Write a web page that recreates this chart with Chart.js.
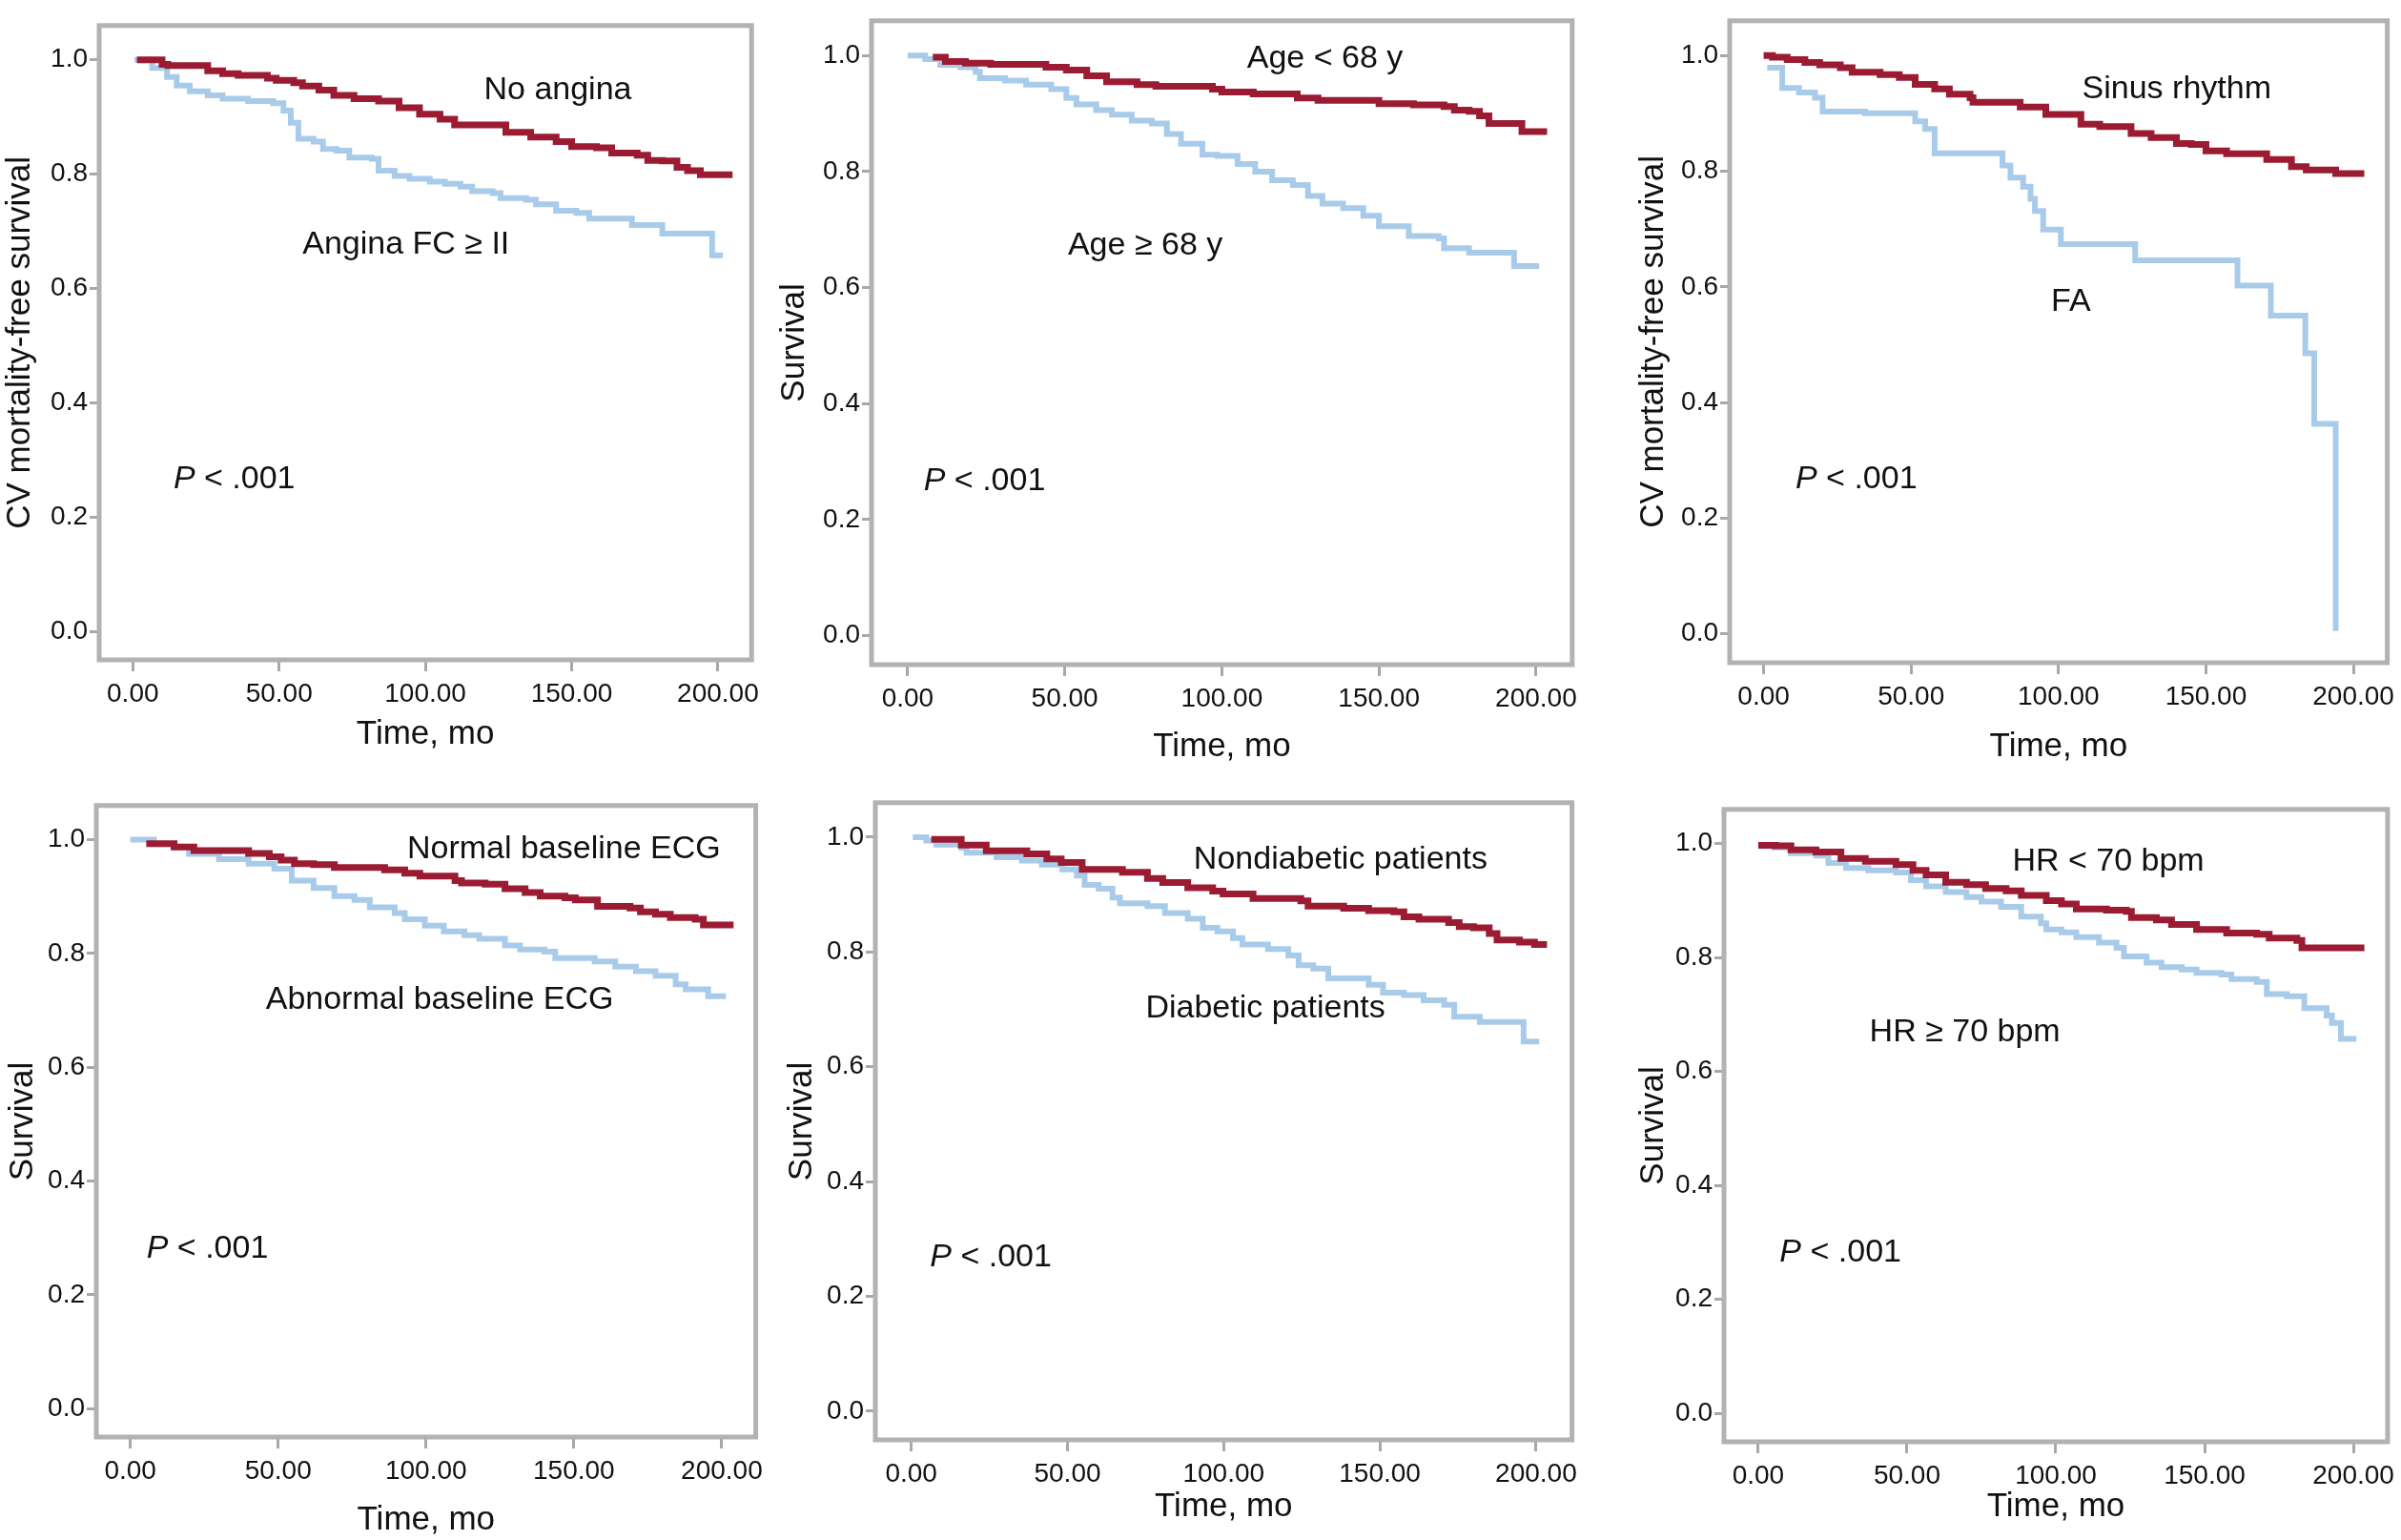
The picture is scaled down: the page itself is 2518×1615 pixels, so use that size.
<!DOCTYPE html>
<html>
<head>
<meta charset="utf-8">
<script src="https://cdn.jsdelivr.net/npm/chart.js@4.4.1/dist/chart.umd.min.js"></script>
<style>
body { margin: 0; background: #fff; width: 2518px; height: 1615px; overflow: hidden; position: relative; }
.panel { position: absolute; }
</style>
</head>
<body>
<script>
// tick values shared by all six panels
const xTicks = [0, 50, 100, 150, 200];
const yTicks = [0, 0.2, 0.4, 0.6, 0.8, 1.0];

// panel 1: angina
const noAnginaTime = [1.4, 10, 12, 25.6, 30.7, 36, 46, 49, 55, 58, 63.6, 68.7, 75.6, 84, 91, 98, 105, 110, 127.5, 136, 144.7, 150, 158.5, 163.7, 172.4, 176, 181, 186, 189.6, 194, 205];
const noAnginaSurv = [1.0, 0.992, 0.99, 0.981, 0.976, 0.973, 0.968, 0.964, 0.96, 0.954, 0.947, 0.938, 0.932, 0.928, 0.916, 0.905, 0.896, 0.886, 0.873, 0.865, 0.857, 0.848, 0.846, 0.837, 0.833, 0.824, 0.823, 0.812, 0.806, 0.799, 0.799];
const anginaTime = [0.5, 6.6, 11.7, 15, 19.5, 25.6, 30.7, 39.4, 48, 51.5, 54, 56.6, 61.8, 65, 69.6, 74, 81.7, 84, 89.5, 94.6, 101.5, 106.7, 112, 116, 123, 125.7, 134.4, 137.8, 144.7, 151.6, 156, 170.6, 181, 198, 201.7];
const anginaSurv = [1.0, 0.986, 0.970, 0.955, 0.945, 0.938, 0.932, 0.928, 0.924, 0.911, 0.89, 0.862, 0.857, 0.844, 0.841, 0.829, 0.827, 0.806, 0.797, 0.792, 0.787, 0.783, 0.778, 0.770, 0.767, 0.758, 0.755, 0.747, 0.736, 0.732, 0.722, 0.711, 0.696, 0.658, 0.658];

// panel 2: age
const youngTime = [8, 12, 18.4, 26.4, 44, 50.5, 57, 63.3, 73, 79, 97, 100, 110, 124, 130.6, 150, 161, 170.7, 174, 178.7, 182, 185, 195.5, 203.5];
const youngSurv = [0.997, 0.99, 0.987, 0.985, 0.98, 0.975, 0.965, 0.955, 0.95, 0.947, 0.942, 0.937, 0.934, 0.927, 0.923, 0.917, 0.915, 0.912, 0.906, 0.904, 0.896, 0.883, 0.869, 0.869];
const oldTime = [0, 5.6, 10.4, 16.8, 21.6, 23, 31, 37.7, 45.7, 50.5, 53.7, 60, 65, 71.3, 77.7, 82.5, 87, 93.8, 98.6, 105, 110.6, 116, 122.6, 127.4, 132, 138.6, 145, 150, 159.5, 169, 170.7, 178.7, 193, 201];
const oldSurv = [1.0, 0.994, 0.984, 0.98, 0.972, 0.961, 0.957, 0.95, 0.942, 0.927, 0.916, 0.906, 0.898, 0.888, 0.883, 0.865, 0.848, 0.829, 0.827, 0.813, 0.8, 0.785, 0.777, 0.758, 0.745, 0.737, 0.724, 0.706, 0.689, 0.685, 0.668, 0.66, 0.637, 0.637];

// panel 3: rhythm
const sinusTime = [0, 3, 8, 14, 19, 26, 30, 39.5, 46, 51.4, 58, 63, 70, 71, 87, 95.7, 107.6, 114, 124.6, 131.4, 140, 145, 150, 157, 170.6, 179, 184, 194, 203.7];
const sinusSurv = [1.0, 0.997, 0.993, 0.988, 0.984, 0.979, 0.971, 0.967, 0.962, 0.95, 0.942, 0.933, 0.927, 0.919, 0.911, 0.898, 0.881, 0.877, 0.865, 0.858, 0.848, 0.846, 0.835, 0.83, 0.82, 0.808, 0.802, 0.796, 0.796];
const faTime = [1.2, 6.3, 12, 17.4, 20, 34.4, 51.4, 54.8, 58, 81, 83.7, 88, 90.5, 92, 94.8, 100.8, 126, 160.7, 172, 183.7, 186.7, 194];
const faSurv = [0.979, 0.944, 0.936, 0.927, 0.903, 0.9, 0.886, 0.873, 0.831, 0.81, 0.789, 0.773, 0.752, 0.731, 0.699, 0.674, 0.646, 0.602, 0.55, 0.485, 0.363, 0.005];

// panel 4: baseline ECG
const normalEcgTime = [5.4, 14.8, 21.5, 40, 47, 51, 55.5, 62, 69, 86, 92.8, 97.9, 109.8, 112, 120, 126.7, 133.5, 138.6, 147, 150.5, 158, 169, 172.5, 177.6, 182.6, 191, 193.8, 204];
const normalEcgSurv = [0.993, 0.987, 0.981, 0.976, 0.97, 0.964, 0.958, 0.956, 0.951, 0.947, 0.941, 0.936, 0.928, 0.924, 0.922, 0.914, 0.907, 0.901, 0.898, 0.894, 0.883, 0.88, 0.873, 0.869, 0.863, 0.86, 0.85, 0.85];
const abnormalEcgTime = [0, 3, 8, 14.8, 19.8, 30, 40, 48.7, 54.6, 62, 69, 75.8, 81, 89.4, 92.8, 99.6, 106, 113, 118, 126.7, 131.8, 140, 143.7, 157, 164, 171, 177.6, 184.4, 187.8, 195.4, 201.4];
const abnormalEcgSurv = [1.0, 1.0, 0.992, 0.987, 0.975, 0.966, 0.958, 0.949, 0.928, 0.915, 0.901, 0.894, 0.881, 0.871, 0.86, 0.849, 0.839, 0.832, 0.826, 0.814, 0.807, 0.803, 0.792, 0.786, 0.777, 0.769, 0.761, 0.746, 0.737, 0.725, 0.725];

// panel 5: diabetes
const nondiabTime = [6.4, 16, 24, 37, 43.4, 48, 54.7, 67.6, 75.6, 80.5, 88.5, 96.5, 99.8, 109.4, 124.7, 127, 138.4, 146.4, 154.5, 157.7, 162.5, 172, 175.4, 180, 185, 187.5, 194.7, 199.5, 203.5];
const nondiabSurv = [0.996, 0.986, 0.976, 0.971, 0.962, 0.956, 0.944, 0.939, 0.928, 0.921, 0.912, 0.906, 0.901, 0.893, 0.889, 0.88, 0.876, 0.872, 0.87, 0.861, 0.857, 0.851, 0.844, 0.842, 0.832, 0.821, 0.817, 0.813, 0.813];
const diabTime = [0.5, 4.8, 8, 16, 17.7, 27.3, 35.4, 41.8, 48.3, 53, 55.5, 60, 64.4, 66.8, 75.6, 81.2, 88.5, 93.3, 98, 103, 106, 114.2, 120.7, 124, 128.7, 133.5, 146.4, 151, 157.7, 164, 170.6, 173.8, 182, 196, 201];
const diabSurv = [1.0, 0.994, 0.987, 0.981, 0.973, 0.965, 0.959, 0.952, 0.944, 0.933, 0.917, 0.91, 0.895, 0.885, 0.88, 0.868, 0.858, 0.842, 0.836, 0.824, 0.813, 0.805, 0.794, 0.777, 0.771, 0.754, 0.743, 0.729, 0.725, 0.716, 0.708, 0.687, 0.678, 0.644, 0.644];

// panel 6: heart rate
const lowHrTime = [0, 5.9, 11, 19.4, 27.8, 36, 46.3, 52, 56.4, 63, 70, 76.4, 83.3, 88.4, 96.8, 101.9, 106.9, 117, 123.7, 125.4, 133.8, 138.9, 147.3, 157.4, 167.5, 171.7, 181, 182.7, 203.7];
const lowHrSurv = [0.997, 0.996, 0.989, 0.985, 0.974, 0.969, 0.963, 0.953, 0.945, 0.932, 0.928, 0.921, 0.917, 0.909, 0.9, 0.894, 0.885, 0.883, 0.881, 0.87, 0.866, 0.858, 0.849, 0.843, 0.841, 0.834, 0.83, 0.817, 0.817];
const highHrTime = [4.2, 11, 19.4, 23.6, 29.5, 37, 46.3, 51.3, 56.4, 63, 70, 75, 81.6, 88.4, 95, 96.8, 101.9, 106.9, 114.5, 120.4, 122.9, 130.5, 135.5, 142.3, 147.3, 155.7, 159, 167.5, 170.9, 177.6, 183.5, 191, 192.8, 195.8, 201];
const highHrSurv = [0.993, 0.983, 0.979, 0.966, 0.957, 0.953, 0.949, 0.936, 0.925, 0.915, 0.906, 0.898, 0.889, 0.872, 0.86, 0.849, 0.844, 0.836, 0.826, 0.817, 0.802, 0.791, 0.783, 0.779, 0.773, 0.77, 0.762, 0.757, 0.736, 0.732, 0.711, 0.698, 0.685, 0.657, 0.657];

const RED = '#9b1c32';
const BLUE = '#a9cbea';
const FONT = '"Liberation Sans", Arial, sans-serif';

function points(t, s) {
    return t.map((x, i) => ({ x: x, y: s[i] }));
}

// box around the plot area
const framePlugin = {
    id: 'frame',
    beforeDatasetsDraw(chart) {
        const a = chart.chartArea;
        const ctx = chart.ctx;
        ctx.save();
        ctx.strokeStyle = '#b2b2b2';
        ctx.lineWidth = 5;
        ctx.strokeRect(a.left, a.top, a.right - a.left, a.bottom - a.top);
        ctx.restore();
    }
};

function labelPlugin(labels) {
    return {
        id: 'curveLabels',
        afterDatasetsDraw(chart) {
            const ctx = chart.ctx;
            const xs = chart.scales.x;
            const ys = chart.scales.y;
            ctx.save();
            ctx.fillStyle = '#111';
            ctx.textBaseline = 'middle';
            ctx.textAlign = 'left';
            labels.forEach(l => {
                let px = xs.getPixelForValue(l.x);
                const py = ys.getPixelForValue(l.y);
                if (l.italic) {
                    ctx.font = 'italic 34px ' + FONT;
                    ctx.fillText(l.italic, px, py);
                    px += ctx.measureText(l.italic).width;
                }
                ctx.font = '34px ' + FONT;
                ctx.fillText(l.text, px, py);
            });
            ctx.restore();
        }
    };
}

function makePanel(p) {
    const canvas = document.createElement('canvas');
    canvas.className = 'panel';
    canvas.width = p.w;
    canvas.height = p.h;
    canvas.style.left = p.left + 'px';
    canvas.style.top = p.top + 'px';
    canvas.style.width = p.w + 'px';
    canvas.style.height = p.h + 'px';
    document.body.appendChild(canvas);

    new Chart(canvas.getContext('2d'), {
        type: 'line',
        data: {
            datasets: [
                { data: points(p.redT, p.redS), borderColor: RED, borderWidth: 7, stepped: true, pointRadius: 0, fill: false },
                { data: points(p.blueT, p.blueS), borderColor: BLUE, borderWidth: 6, stepped: true, pointRadius: 0, fill: false }
            ]
        },
        options: {
            responsive: false,
            animation: false,
            devicePixelRatio: 1,
            layout: { padding: { top: 5, right: p.padR, bottom: 0, left: 0 } },
            plugins: { legend: { display: false }, tooltip: { enabled: false } },
            scales: {
                x: {
                    type: 'linear',
                    min: -11.5,
                    max: 211.5,
                    afterBuildTicks: s => { s.ticks = xTicks.map(v => ({ value: v })); },
                    afterFit: s => { s.height = p.xH; },
                    ticks: { callback: v => v.toFixed(2), font: { family: FONT, size: 28 }, color: '#111', padding: 7, maxRotation: 0 },
                    grid: { drawOnChartArea: false, tickLength: 12, color: '#a8a8a8', lineWidth: 3 },
                    border: { display: false },
                    title: { display: true, text: 'Time, mo', font: { family: FONT, size: 35 }, color: '#111', padding: 0 }
                },
                y: {
                    min: -0.05,
                    max: 1.06,
                    afterBuildTicks: s => { s.ticks = yTicks.map(v => ({ value: v })); },
                    afterFit: s => { s.width = p.yW; },
                    ticks: { callback: v => v.toFixed(1), font: { family: FONT, size: 28 }, color: '#111', padding: 2 },
                    grid: { drawOnChartArea: false, tickLength: 10, color: '#a8a8a8', lineWidth: 3 },
                    border: { display: false },
                    title: { display: true, text: p.yTitle, font: { family: FONT, size: 35 }, color: '#111', padding: 0 }
                }
            }
        },
        plugins: [framePlugin, labelPlugin(p.labels)]
    });
}

const panels = [
    { left: 0, top: 8, w: 803, h: 783, yW: 104, xH: 99, padR: 5, yTitle: 'CV mortality-free survival',
      redT: noAnginaTime, redS: noAnginaSurv, blueT: anginaTime, blueS: anginaSurv,
      labels: [{ x: 120, y: 0.947, text: 'No angina' }, { x: 58, y: 0.677, text: 'Angina FC \u2265 II' }, { x: 13.9, y: 0.266, italic: 'P', text: ' < .001' }] },
    { left: 812, top: 3, w: 849, h: 801, yW: 102, xH: 107, padR: 5, yTitle: 'Survival',
      redT: youngTime, redS: youngSurv, blueT: oldTime, blueS: oldSurv,
      labels: [{ x: 108, y: 0.994, text: 'Age < 68 y' }, { x: 51, y: 0.672, text: 'Age \u2265 68 y' }, { x: 5.1, y: 0.267, italic: 'P', text: ' < .001' }] },
    { left: 1713, top: 3, w: 805, h: 801, yW: 101, xH: 109, padR: 2, yTitle: 'CV mortality-free survival',
      redT: sinusTime, redS: sinusSurv, blueT: faTime, blueS: faSurv,
      labels: [{ x: 108, y: 0.941, text: 'Sinus rhythm' }, { x: 97.5, y: 0.574, text: 'FA' }, { x: 10.8, y: 0.267, italic: 'P', text: ' < .001' }] },
    { left: 3, top: 826, w: 804, h: 789, yW: 98, xH: 108, padR: 5, yTitle: 'Survival',
      redT: normalEcgTime, redS: normalEcgSurv, blueT: abnormalEcgTime, blueS: abnormalEcgSurv,
      labels: [{ x: 93.6, y: 0.983, text: 'Normal baseline ECG' }, { x: 45.8, y: 0.718, text: 'Abnormal baseline ECG' }, { x: 5.5, y: 0.281, italic: 'P', text: ' < .001' }] },
    { left: 820, top: 823, w: 841, h: 778, yW: 98, xH: 91, padR: 5, yTitle: 'Survival',
      redT: nondiabTime, redS: nondiabSurv, blueT: diabTime, blueS: diabSurv,
      labels: [{ x: 90.4, y: 0.961, text: 'Nondiabetic patients' }, { x: 75, y: 0.702, text: 'Diabetic patients' }, { x: 6, y: 0.268, italic: 'P', text: ' < .001' }] },
    { left: 1713, top: 830, w: 805, h: 771, yW: 95, xH: 89, padR: 2, yTitle: 'Survival',
      redT: lowHrTime, redS: lowHrSurv, blueT: highHrTime, blueS: highHrSurv,
      labels: [{ x: 85.4, y: 0.968, text: 'HR < 70 bpm' }, { x: 37.4, y: 0.668, text: 'HR \u2265 70 bpm' }, { x: 7.2, y: 0.282, italic: 'P', text: ' < .001' }] }
];

panels.forEach(makePanel);
</script>
</body>
</html>
